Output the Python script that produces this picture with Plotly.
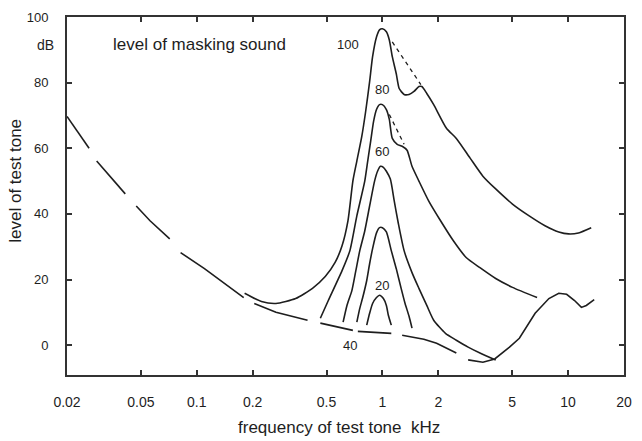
import math
import plotly.graph_objects as go

# ---------------- data (frequency in kHz, level in dB) ----------------
# threshold in quiet (long-dashed at low frequencies: gaps marked by None)
tq_f = [0.02, 0.0263, None, 0.0289, 0.0412, None, 0.0472, 0.056, 0.0715, None,
        0.0818, 0.110, 0.179, None, 0.204, 0.267, 0.395, None,
        0.463, 0.614, 0.693, None, 0.737, 1.116, None,
        1.277, 1.479, 1.671, 1.958, 2.5, None,
        2.894, 3.476, 4.025, 4.834, 5.463, 6.642, 7.88, 8.905, 9.82, 10.83, 11.79, 12.53, 13.82]
tq_db = [69.7, 60.0, None, 56.1, 46.1, None, 42.4, 37.9, 32.4, None,
         28.2, 23.3, 14.5, None, 12.7, 10.0, 7.6, None,
         6.7, 5.2, 4.5, None, 4.2, 3.6, None,
         3.0, 2.4, 1.8, 0.6, -2.4, None,
         -4.5, -5.2, -4.2, -0.6, 2.1, 9.7, 14.2, 15.8, 15.5, 13.6, 11.5, 12.1, 13.9]

# masking curves, masker level 100 dB
m100_f = [0.181, 0.223, 0.267, 0.341, 0.420, 0.492, 0.556, 0.606, 0.652, 0.693, 0.728,
          0.774, 0.812, 0.853, 0.885, 0.929, 0.964, 1.0, 1.05, 1.089, 1.13, 1.187, 1.231,
          1.308, 1.391, 1.479, 1.572, 1.63, 1.733, 1.888, 2.212, 2.5, 2.966, 3.476, 4.074,
          5.015, 6.17, 7.506, 8.905, 10.06, 11.37, 13.32]
m100_db = [15.8, 13.3, 12.7, 14.2, 17.3, 20.9, 25.2, 30.3, 37.9, 50.0, 56.1,
           63.6, 71.2, 80.3, 87.9, 93.9, 96.1, 96.4, 95.5, 93.0, 87.9, 82.7, 78.2,
           76.4, 76.4, 77.3, 78.8, 78.8, 76.7, 73.3, 66.1, 63.0, 57.0, 51.5, 47.6,
           43.0, 39.4, 36.4, 34.5, 33.9, 34.2, 35.8]
m100_dash_f = [1.13, 1.61]
m100_dash_db = [92.4, 79.4]

# masker level 80 dB
m80_f = [0.463, 0.511, 0.606, 0.668, 0.728, 0.803, 0.833, 0.864, 0.896, 0.929, 0.964, 1.0,
         1.05, 1.089, 1.13, 1.201, 1.277, 1.357, 1.443, 1.572, 1.776, 2.056, 2.41, 2.824,
         3.351, 4.074, 5.015, 6.806]
m80_db = [8.2, 13.6, 22.7, 28.8, 39.4, 50.0, 56.1, 62.1, 68.2, 71.8, 73.3, 73.3,
          71.8, 68.8, 63.0, 61.2, 60.6, 59.4, 54.5, 50.0, 43.9, 37.9, 31.8, 26.7,
          23.6, 20.3, 17.6, 14.5]
m80_dash_f = [1.089, 1.308]
m80_dash_db = [70.3, 61.2]

# masker level 60 dB
m60_f = [0.614, 0.644, 0.685, 0.719, 0.755, 0.803, 0.853, 0.907, 0.941, 0.976, 1.012,
         1.05, 1.103, 1.158, 1.216, 1.308, 1.443, 1.572, 1.733, 1.888, 2.185, 2.5, 2.894,
         3.351, 4.074]
m60_db = [7.0, 12.1, 16.7, 22.7, 28.8, 34.8, 42.4, 50.0, 53.0, 54.5, 54.2,
          53.0, 50.6, 43.9, 37.3, 28.8, 22.1, 17.3, 12.1, 7.6, 3.6, 1.5, -0.6,
          -2.4, -4.5]

# masker level 40 dB
m40_f = [0.728, 0.755, 0.783, 0.823, 0.853, 0.885, 0.929, 0.964, 1.0, 1.05, 1.116, 1.187,
         1.261, 1.324, 1.391, 1.443]
m40_db = [7.0, 11.2, 14.5, 19.7, 24.8, 29.4, 34.2, 35.8, 35.8, 34.5, 28.8, 23.3,
          17.3, 12.7, 8.8, 5.2]

# masker level 20 dB
m20_f = [0.823, 0.853, 0.885, 0.929, 0.964, 1.012, 1.05, 1.076, 1.116]
m20_db = [6.1, 9.7, 12.7, 14.5, 15.2, 14.2, 12.1, 9.1, 6.1]

x_ticks = [0.02, 0.05, 0.1, 0.2, 0.5, 1, 2, 5, 10, 20]
x_tick_text = ["0.02", "0.05", "0.1", "0.2", "0.5", "1", "2", "5", "10", "20"]
y_ticks = [0, 20, 40, 60, 80, 100]

# ---------------- figure ----------------
FONT = "Liberation Sans, Arial, sans-serif"
INK = "#1e1e1e"
line = dict(color=INK, width=1.6)
dline = dict(color=INK, width=1.3, dash="4px,4px")

fig = go.Figure()
fig.add_trace(go.Scatter(x=tq_f, y=tq_db, mode="lines", line=line, connectgaps=False))
for fx, fy in [(m100_f, m100_db), (m80_f, m80_db), (m60_f, m60_db), (m40_f, m40_db), (m20_f, m20_db)]:
    fig.add_trace(go.Scatter(x=fx, y=fy, mode="lines",
                             line=dict(color=INK, width=1.6, shape="spline", smoothing=0.6)))
for fx, fy in [(m100_dash_f, m100_dash_db), (m80_dash_f, m80_dash_db)]:
    fig.add_trace(go.Scatter(x=fx, y=fy, mode="lines", line=dline))

axis_common = dict(showline=True, linecolor="#333", linewidth=2, mirror="ticks",
                   ticks="inside", ticklen=5, tickwidth=1.5, tickcolor="#333",
                   showgrid=False, zeroline=False)

fig.update_xaxes(type="log", range=[math.log10(0.02), math.log10(20)],
                 tickvals=x_ticks, ticktext=x_tick_text, ticklabelstandoff=13,
                 tickfont=dict(family=FONT, size=14, color=INK), **axis_common)
fig.update_yaxes(range=[-9.1, 100], tickvals=y_ticks, ticklabelstandoff=14,
                 tickfont=dict(family=FONT, size=13, color=INK), **axis_common)

ann = dict(showarrow=False, xanchor="center", yanchor="middle",
           font=dict(family=FONT, size=13, color=INK))
fig.add_annotation(x=-0.1857, y=91.5, text="100", **ann)
fig.add_annotation(x=0.0, y=77.9, text="80", **ann)
fig.add_annotation(x=0.0, y=59.1, text="60", **ann)
fig.add_annotation(x=0.0, y=18.2, text="20", **ann)
fig.add_annotation(x=-0.175, y=0.0, text="40", **ann)

big = dict(showarrow=False, xanchor="center", yanchor="middle",
           font=dict(family=FONT, size=17, color=INK))
fig.add_annotation(x=-0.987, y=91.5, text="level of masking sound", **big)
fig.add_annotation(xref="paper", yref="paper", x=-0.039, y=0.922, text="dB",
                   showarrow=False, xanchor="center", yanchor="middle",
                   font=dict(family=FONT, size=14, color=INK))
fig.add_annotation(xref="paper", yref="paper", x=-0.092, y=0.542, text="level of test tone",
                   textangle=-90, **big)
fig.add_annotation(xref="paper", yref="paper", x=0.488, y=-0.147, text="frequency of test tone  kHz",
                   **big)

fig.update_layout(width=642, height=441, margin=dict(l=67, r=10, t=15, b=66),
                  paper_bgcolor="white", plot_bgcolor="white", showlegend=False)

fig.write_html("out.html")
